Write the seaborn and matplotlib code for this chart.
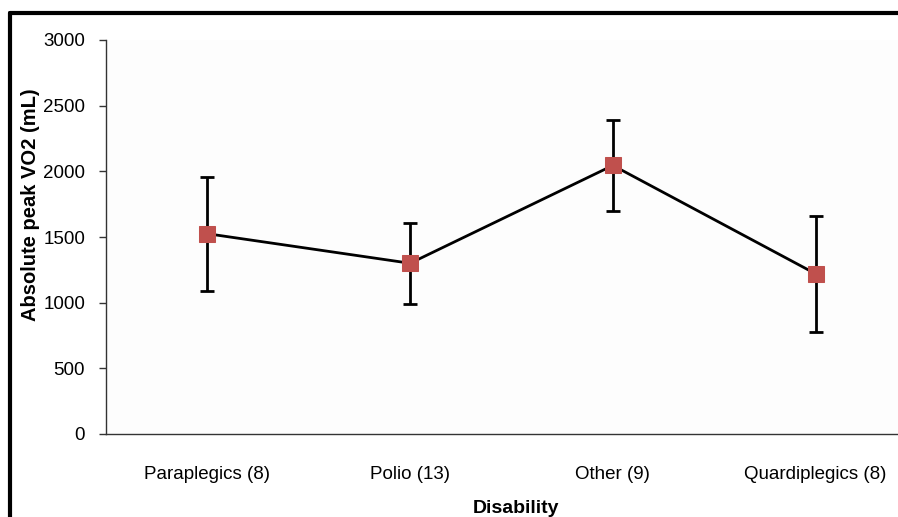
import numpy as np
import matplotlib
matplotlib.use("Agg")
import matplotlib.pyplot as plt
import seaborn as sns
from matplotlib.lines import Line2D

# values
groups = ["Paraplegics (8)", "Polio (13)", "Other (9)", "Quardiplegics (8)"]
mean_vo2 = [1525, 1300, 2045, 1220]
sd_vo2 = [435, 310, 348, 440]
y_ticks = [0, 500, 1000, 1500, 2000, 2500, 3000]

sns.set_style("white")
plt.rcParams["font.family"] = ["Liberation Sans", "DejaVu Sans"]
plt.rcParams["text.color"] = "black"
plt.rcParams["xtick.color"] = "black"
plt.rcParams["ytick.color"] = "black"
plt.rcParams["axes.labelcolor"] = "black"

fig = plt.figure(figsize=(8.98, 5.17), dpi=100)
fig.patch.set_facecolor("white")
ax = fig.add_axes([106 / 898, 83 / 517, 811 / 898, 394 / 517])
ax.set_facecolor("#fdfdfd")

xpos = np.arange(len(groups))
ax.errorbar(xpos, mean_vo2, yerr=sd_vo2, fmt="none", ecolor="black",
            elinewidth=2, capsize=5, capthick=2, zorder=2)
sns.lineplot(x=xpos, y=mean_vo2, ax=ax, color="black", linewidth=2,
             marker="s", markersize=11, markerfacecolor="#c0504d",
             markeredgecolor="#c0504d", zorder=3)

ax.set_xlim(-0.5, len(groups) - 0.5)
ax.set_ylim(0, 3000)
ax.set_yticks(y_ticks)
ax.set_xticks(xpos)
ax.set_xticklabels(groups)
ax.set_xticks(np.arange(0.5, len(groups) - 0.5, 1), minor=True)
ax.tick_params(axis="x", which="major", length=0, pad=23, labelsize=13.5)
ax.tick_params(axis="x", which="minor", length=5, width=1, color="#333333", direction="out")
ax.tick_params(axis="y", length=5, width=1, color="#333333", direction="out",
               left=True, labelsize=13.5, pad=10)

for side in ["top", "right"]:
    ax.spines[side].set_visible(False)
for side in ["left", "bottom"]:
    ax.spines[side].set_color("#333333")
    ax.spines[side].set_linewidth(1)

ax.set_ylabel("Absolute peak VO2 (mL)", fontsize=14.5, fontweight="bold")
ax.yaxis.set_label_coords(-0.0814, 0.581)
ax.set_xlabel("Disability", fontsize=14, fontweight="bold")
ax.xaxis.set_label_coords(0.5056, -0.188)
ax.xaxis.label.set_verticalalignment("center")

# frame lines of the original image
fig.add_artist(Line2D([10 / 898, 10 / 898], [0, 1 - 13 / 517], color="black",
                      linewidth=3, transform=fig.transFigure))
fig.add_artist(Line2D([10 / 898, 1], [1 - 13 / 517, 1 - 13 / 517], color="black",
                      linewidth=3, transform=fig.transFigure))

fig.savefig("out.png", dpi=100)
